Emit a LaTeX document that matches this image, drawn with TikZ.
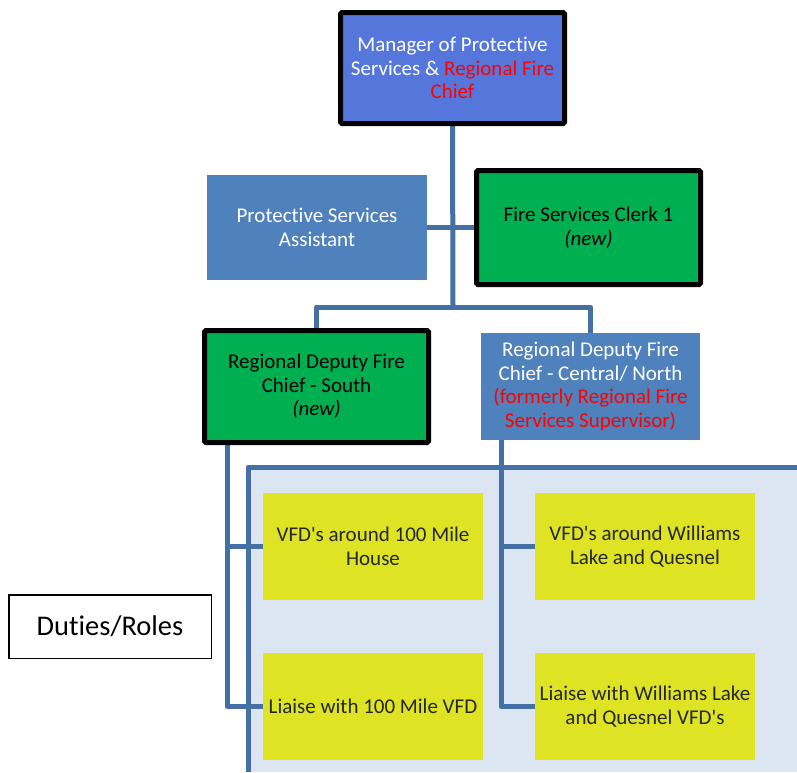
\documentclass[tikz,border=0pt]{standalone}
\usepackage{fontspec}
\setmainfont{Carlito}[Ligatures={NoCommon}]
\usetikzlibrary{backgrounds}
\definecolor{mgrblue}{RGB}{85,119,219}
\definecolor{boxblue}{RGB}{79,129,189}
\definecolor{boxgreen}{RGB}{0,176,80}
\definecolor{boxyellow}{RGB}{222,228,36}
\definecolor{panelblue}{RGB}{220,230,242}
\definecolor{linkblue}{RGB}{68,112,166}
\newcommand{\sq}{\textquotesingle}
\begin{document}
\begin{tikzpicture}[x=1pt,y=-1pt,
  base/.style={inner sep=0pt, align=center, font=\fontsize{21}{23.5}\selectfont},
  keybox/.style={base, draw=black, line width=5pt, rounded corners=1.5pt},
  plainblue/.style={base, fill=boxblue, text=white, minimum width=219pt, minimum height=106pt},
  greenbox/.style={keybox, fill=boxgreen, text=black, minimum width=224pt, minimum height=112pt},
  dutybox/.style={base, fill=boxyellow, text=black!85, minimum width=220pt, minimum height=107pt},
  link/.style={draw=linkblue, line width=5pt, line join=round}]
\useasboundingbox (0,0) rectangle (797,772);

\node[keybox, fill=mgrblue, text=white, minimum width=224pt, minimum height=111pt] (mgr) at (452.5,68)
  {Manager of Protective\\Services \& \textcolor{red}{Regional Fire}\\\textcolor{red}{Chief}};
\node[plainblue, minimum width=220pt, minimum height=105pt] (asst) at (317,227.5)
  {Protective Services\\Assistant};
\node[greenbox, minimum height=114pt] (clerk) at (588.5,227.5)
  {Fire Services Clerk 1\\\textit{(new)}};
\node[greenbox] (south) at (316.5,386.5)
  {Regional Deputy Fire\\Chief - South\\\textit{(new)}};
\node[plainblue, minimum height=107pt] (central) at (590.5,386.5)
  {Regional Deputy Fire\\Chief - Central/ North\\\textcolor{red}{(formerly Regional Fire}\\\textcolor{red}{Services Supervisor)}};

\node[dutybox] (y1) at (373,546.5) {VFD\sq s around 100 Mile\\House};
\node[dutybox] (y2) at (645,546.5) {VFD\sq s around Williams\\Lake and Quesnel};
\node[dutybox] (y3) at (373,706.5) {Liaise with 100 Mile VFD};
\node[dutybox] (y4) at (645,706.5) {Liaise with Williams Lake\\and Quesnel VFD\sq s};

\node[draw=black, line width=1.5pt, inner sep=0pt, minimum width=202.5pt, minimum height=63.5pt,
  font=\fontsize{28.5}{30}\selectfont] (duties) at (110,626.5) {Duties/Roles};

\coordinate (j1) at (453,307);
\coordinate (sL) at (227,445);
\coordinate (cL) at (501,440);

\begin{scope}[on background layer]
  \fill[panelblue] (248,467) rectangle (797,772);
  \draw[linkblue, line width=5pt, line join=round] (248,772) -- (248,467) -- (797,467);
  \draw[link] (mgr.south) -- (j1);
  \draw[link] (asst.east) -- (clerk.west);
  \draw[link] (south.north) |- (j1) -| (central.north);
  \draw[link] (sL) |- (y1.west);
  \draw[link] (sL) |- (y3.west);
  \draw[link] (cL) |- (y2.west);
  \draw[link] (cL) |- (y4.west);
\end{scope}
\end{tikzpicture}
\end{document}
